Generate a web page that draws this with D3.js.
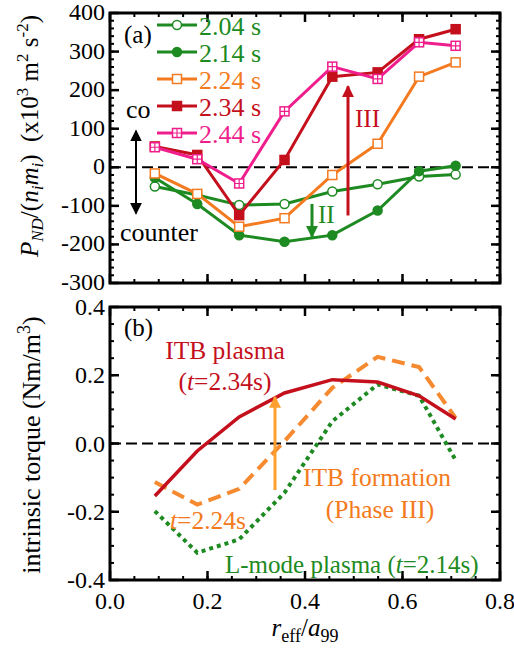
<!DOCTYPE html>
<meta charset='utf-8'>
<style>
  body { margin:0; background:#fff; }
  text { font-family:'Liberation Serif', 'Times New Roman', serif; }
  .frame { fill:none; stroke:#000; stroke-width:3px; }
  .zero { stroke:#000; stroke-width:2px; stroke-dasharray:11,5; }
</style>
<body>
  <script src='https://d3js.org/d3.v7.min.js' charset='utf-8'></script>
  <script>

    var width = 514;
    var height = 656;

    // radial positions r_eff/a99
    var rPos = [0.092, 0.179, 0.265, 0.358, 0.456, 0.549, 0.634, 0.709];

    // panel (a): P_ND/(n_i m_i)
    var times = ['2.04 s', '2.14 s', '2.24 s', '2.34 s', '2.44 s'];
    var p204 = [-50, -72, -98, -95, -63, -44, -24, -19];
    var p214 = [-27, -95, -176, -193, -176, -112, -10, 4];
    var p224 = [-16, -69, -154, -132, -20, 61, 235, 272];
    var p234 = [54, 32, -124, 19, 235, 246, 332, 358];
    var p244 = [52, 21, -42, 145, 261, 229, 324, 315];

    // panel (b): intrinsic torque
    var tq234 = [-0.154, -0.022, 0.078, 0.148, 0.187, 0.180, 0.140, 0.072];
    var tq224 = [-0.113, -0.179, -0.133, 0.007, 0.163, 0.254, 0.224, 0.075];
    var tq214 = [-0.198, -0.320, -0.281, -0.144, 0.065, 0.173, 0.140, -0.049];

    var xTicks = [0, 0.2, 0.4, 0.6, 0.8];
    var yTicksA = [-300, -200, -100, 0, 100, 200, 300, 400];
    var yTicksB = [-0.4, -0.2, 0, 0.2, 0.4];

    var green = '#1e8a22', orange = '#f47a20', red = '#c4101c', pink = '#f01e8c';

    var svg = d3.select('body').append('svg')
      .attr('width', width)
      .attr('height', height);

    var defs = svg.append('defs');
    function arrowHead(id, color) {
      defs.append('marker')
        .attr('id', id)
        .attr('viewBox', '0 0 10 10')
        .attr('refX', 9).attr('refY', 5)
        .attr('markerUnits', 'userSpaceOnUse')
        .attr('markerWidth', 12).attr('markerHeight', 14)
        .attr('orient', 'auto-start-reverse')
        .append('path')
        .attr('d', 'M0,0 L10,5 L0,10 Z')
        .attr('fill', color);
    }
    arrowHead('ahBlack', '#000');
    arrowHead('ahGreen', green);
    arrowHead('ahRed', red);
    arrowHead('ahOrange', '#ffa02e');

    var x = d3.scaleLinear().domain([0, 0.8]).range([110, 500]);
    var yA = d3.scaleLinear().domain([-300, 400]).range([283, 13]);
    var yB = d3.scaleLinear().domain([-0.4, 0.4]).range([580, 307]);

    function drawFrame(y, majors, minorStep, minorX) {
      var g = svg.append('g');
      var x0 = x.range()[0], x1 = x.range()[1];
      var y0 = y.range()[0], y1 = y.range()[1];
      var d = y.domain();
      var minY = d3.range(d[0], d[1] + minorStep / 2, minorStep);
      var minXs = d3.range(0, 0.8 + 0.001, minorX);
      // minor ticks
      minY.forEach(v => {
        var yy = y(v);
        g.append('line').attr('x1', x0).attr('x2', x0 + 4).attr('y1', yy).attr('y2', yy).attr('stroke', '#000').attr('stroke-width', 2);
        g.append('line').attr('x1', x1).attr('x2', x1 - 4).attr('y1', yy).attr('y2', yy).attr('stroke', '#000').attr('stroke-width', 2);
      });
      majors.forEach(v => {
        var yy = y(v);
        g.append('line').attr('x1', x0).attr('x2', x0 + 9).attr('y1', yy).attr('y2', yy).attr('stroke', '#000').attr('stroke-width', 2.5);
        g.append('line').attr('x1', x1).attr('x2', x1 - 9).attr('y1', yy).attr('y2', yy).attr('stroke', '#000').attr('stroke-width', 2.5);
      });
      minXs.forEach(v => {
        var xx = x(v);
        g.append('line').attr('x1', xx).attr('x2', xx).attr('y1', y0).attr('y2', y0 - 4).attr('stroke', '#000').attr('stroke-width', 2);
        g.append('line').attr('x1', xx).attr('x2', xx).attr('y1', y1).attr('y2', y1 + 4).attr('stroke', '#000').attr('stroke-width', 2);
      });
      xTicks.forEach(v => {
        var xx = x(v);
        g.append('line').attr('x1', xx).attr('x2', xx).attr('y1', y0).attr('y2', y0 - 9).attr('stroke', '#000').attr('stroke-width', 2.5);
        g.append('line').attr('x1', xx).attr('x2', xx).attr('y1', y1).attr('y2', y1 + 9).attr('stroke', '#000').attr('stroke-width', 2.5);
      });
      g.append('rect').attr('class', 'frame')
        .attr('x', x0).attr('y', y1).attr('width', x1 - x0).attr('height', y0 - y1);
      // zero line
      g.append('line').attr('class', 'zero')
        .attr('x1', x0).attr('x2', x1).attr('y1', y(0)).attr('y2', y(0));
      return g;
    }

    // ---------- panel (a) ----------
    drawFrame(yA, yTicksA, 20, 0.05);

    svg.append('g').selectAll('text').data(yTicksA).join('text')
      .attr('x', 105).attr('y', d => yA(d) + 7)
      .attr('text-anchor', 'end').attr('font-size', 24)
      .text(d => d);

    var seriesA = [
      { vals: p204, color: green, shape: 'circle', fill: '#fff' },
      { vals: p214, color: green, shape: 'circle', fill: green },
      { vals: p224, color: orange, shape: 'square', fill: '#fff' },
      { vals: p234, color: red, shape: 'square', fill: red },
      { vals: p244, color: pink, shape: 'plus', fill: '#fff' }
    ];

    var lineA = d3.line().x(d => x(d[0])).y(d => yA(d[1]));

    function marker(g, cx, cy, s) {
      if (s.shape === 'circle') {
        g.append('circle').attr('cx', cx).attr('cy', cy).attr('r', 4.5)
          .attr('fill', s.fill).attr('stroke', s.color).attr('stroke-width', 1.5);
      } else {
        g.append('rect').attr('x', cx - 4.5).attr('y', cy - 4.5).attr('width', 9).attr('height', 9)
          .attr('fill', s.fill).attr('stroke', s.color).attr('stroke-width', 1.5);
        if (s.shape === 'plus') {
          g.append('path').attr('d', `M${cx - 4.5},${cy}H${cx + 4.5}M${cx},${cy - 4.5}V${cy + 4.5}`)
            .attr('stroke', s.color).attr('stroke-width', 1.2);
        }
      }
    }

    seriesA.forEach(s => {
      var g = svg.append('g');
      g.append('path')
        .datum(d3.zip(rPos, s.vals))
        .attr('d', lineA)
        .attr('fill', 'none')
        .attr('stroke', s.color)
        .attr('stroke-width', 3);
      rPos.forEach((r, i) => marker(g, x(r), yA(s.vals[i]), s));
    });

    // legend
    var leg = svg.append('g');
    seriesA.forEach((s, i) => {
      var ly = 25 + i * 27;
      leg.append('line').attr('x1', 157).attr('x2', 197).attr('y1', ly).attr('y2', ly)
        .attr('stroke', s.color).attr('stroke-width', 3);
      marker(leg, 177, ly, s);
      leg.append('text').attr('x', 199).attr('y', ly + 10)
        .attr('font-size', 26).attr('fill', s.color).text(times[i]);
    });

    svg.append('text').attr('x', 124).attr('y', 43).attr('font-size', 25).text('(a)');
    svg.append('text').attr('x', 126).attr('y', 118).attr('font-size', 26).text('co');
    svg.append('text').attr('x', 120).attr('y', 241).attr('font-size', 26).text('counter');

    // arrows panel (a)
    svg.append('line').attr('x1', 136).attr('x2', 136).attr('y1', yA(95)).attr('y2', yA(-120))
      .attr('stroke', '#000').attr('stroke-width', 2)
      .attr('marker-start', 'url(#ahBlack)').attr('marker-end', 'url(#ahBlack)');
    svg.append('line').attr('x1', 312).attr('x2', 312).attr('y1', yA(-95)).attr('y2', yA(-180))
      .attr('stroke', green).attr('stroke-width', 3).attr('marker-end', 'url(#ahGreen)');
    svg.append('text').attr('x', 318).attr('y', 223).attr('font-size', 25).attr('fill', green).text('II');
    svg.append('line').attr('x1', 348).attr('x2', 348).attr('y1', yA(-125)).attr('y2', yA(210))
      .attr('stroke', red).attr('stroke-width', 3).attr('marker-end', 'url(#ahRed)');
    svg.append('text').attr('x', 355).attr('y', 127).attr('font-size', 25).attr('fill', red).text('III');

    // y label (a)
    var yla = svg.append('text')
      .attr('transform', 'translate(38,136) rotate(-90)')
      .attr('text-anchor', 'middle').attr('font-size', 25);
    yla.append('tspan').attr('font-style', 'italic').text('P');
    yla.append('tspan').attr('font-style', 'italic').attr('font-size', 17).attr('dy', 5).text('ND');
    yla.append('tspan').attr('dy', -5).text('/(');
    yla.append('tspan').attr('font-style', 'italic').text('n');
    yla.append('tspan').attr('font-style', 'italic').attr('font-size', 17).attr('dy', 5).text('i');
    yla.append('tspan').attr('font-style', 'italic').attr('dy', -5).text('m');
    yla.append('tspan').attr('font-style', 'italic').attr('font-size', 17).attr('dy', 5).text('i');
    yla.append('tspan').attr('dy', -5).text(')\u00a0\u00a0(x10');
    yla.append('tspan').attr('font-size', 17).attr('dy', -10).text('3');
    yla.append('tspan').attr('dy', 10).text(' m');
    yla.append('tspan').attr('font-size', 17).attr('dy', -10).text('2');
    yla.append('tspan').attr('dy', 10).text(' s');
    yla.append('tspan').attr('font-size', 17).attr('dy', -10).text('-2');
    yla.append('tspan').attr('dy', 10).text(')');

    // ---------- panel (b) ----------
    drawFrame(yB, yTicksB, 0.05, 0.05);

    svg.append('g').selectAll('text').data(yTicksB).join('text')
      .attr('x', 105).attr('y', d => yB(d) + 8)
      .attr('text-anchor', 'end').attr('font-size', 24)
      .text(d => d3.format('.1f')(d).replace('\u2212', '-'));

    svg.append('g').selectAll('text').data(xTicks).join('text')
      .attr('x', d => x(d)).attr('y', 609)
      .attr('text-anchor', 'middle').attr('font-size', 24)
      .text(d => d3.format('.1f')(d));

    var lineB = d3.line().x(d => x(d[0])).y(d => yB(d[1]));
    svg.append('path').datum(d3.zip(rPos, tq214)).attr('d', lineB)
      .attr('fill', 'none').attr('stroke', green).attr('stroke-width', 4)
      .attr('stroke-dasharray', '4,4');
    svg.append('path').datum(d3.zip(rPos, tq224)).attr('d', lineB)
      .attr('fill', 'none').attr('stroke', '#f58a30').attr('stroke-width', 4)
      .attr('stroke-dasharray', '13,7');
    svg.append('path').datum(d3.zip(rPos, tq234)).attr('d', lineB)
      .attr('fill', 'none').attr('stroke', red).attr('stroke-width', 3.5);

    svg.append('line').attr('x1', 275).attr('x2', 275).attr('y1', 490).attr('y2', 397)
      .attr('stroke', '#ffa02e').attr('stroke-width', 3).attr('marker-end', 'url(#ahOrange)');

    svg.append('text').attr('x', 124).attr('y', 336).attr('font-size', 25).text('(b)');
    svg.append('text').attr('x', 225).attr('y', 359).attr('text-anchor', 'middle')
      .attr('font-size', 25.5).attr('fill', red).text('ITB plasma');
    var t1 = svg.append('text').attr('x', 225).attr('y', 390).attr('text-anchor', 'middle')
      .attr('font-size', 25.5).attr('fill', red);
    t1.append('tspan').text('(');
    t1.append('tspan').attr('font-style', 'italic').text('t');
    t1.append('tspan').text('=2.34s)');

    svg.append('text').attr('x', 377).attr('y', 486).attr('text-anchor', 'middle')
      .attr('font-size', 25.5).attr('fill', '#f47a20').text('ITB formation');
    svg.append('text').attr('x', 380).attr('y', 518).attr('text-anchor', 'middle')
      .attr('font-size', 25.5).attr('fill', '#f47a20').text('(Phase III)');
    var t2 = svg.append('text').attr('x', 170).attr('y', 529)
      .attr('font-size', 25.5).attr('fill', '#f47a20');
    t2.append('tspan').attr('font-style', 'italic').text('t');
    t2.append('tspan').text('=2.24s');
    var t3 = svg.append('text').attr('x', 225).attr('y', 573)
      .attr('font-size', 25).attr('fill', green);
    t3.append('tspan').text('L-mode plasma (');
    t3.append('tspan').attr('font-style', 'italic').text('t');
    t3.append('tspan').text('=2.14s)');

    // y label (b)
    var ylb = svg.append('text')
      .attr('transform', 'translate(40,445) rotate(-90)')
      .attr('text-anchor', 'middle').attr('font-size', 26);
    ylb.append('tspan').text('intrinsic torque (Nm/m');
    ylb.append('tspan').attr('font-size', 18).attr('dy', -10).text('3');
    ylb.append('tspan').attr('dy', 10).text(')');

    // x label
    var xl = svg.append('text').attr('x', 305).attr('y', 636)
      .attr('text-anchor', 'middle').attr('font-size', 25);
    xl.append('tspan').attr('font-style', 'italic').text('r');
    xl.append('tspan').attr('font-size', 18).attr('dy', 6).text('eff');
    xl.append('tspan').attr('dy', -6).text('/');
    xl.append('tspan').attr('font-style', 'italic').text('a');
    xl.append('tspan').attr('font-size', 18).attr('dy', 6).text('99');
  </script>
</body>
